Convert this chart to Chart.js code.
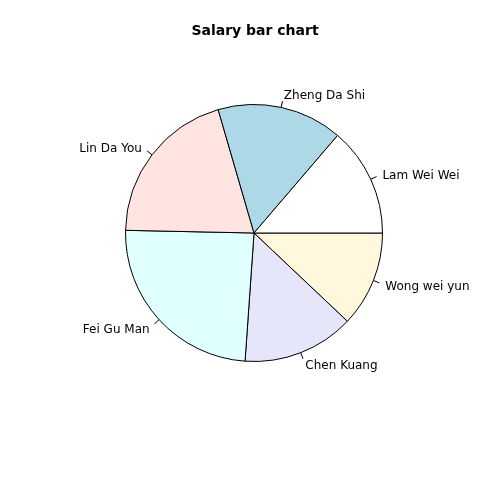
<!DOCTYPE html>
<html>
<head>
<meta charset="utf-8">
<script src="https://cdn.jsdelivr.net/npm/chart.js@4.4.0/dist/chart.umd.min.js"></script>
<style>
html,body{margin:0;padding:0;background:#fff;}
#wrap{width:480px;height:480px;}
</style>
</head>
<body>
<div id="wrap"><canvas id="c" width="480" height="480"></canvas></div>
<script>
// Data in R order (counter-clockwise from 3 o'clock)
const categories = ["Lam Wei Wei", "Zheng Da Shi", "Lin Da You", "Fei Gu Man", "Chen Kuang", "Wong wei yun"];
const salaries = [2470, 2840, 3630, 4360, 2530, 2170];
const sliceColors = ["#FFFFFF", "#ADD8E6", "#FFE4E1", "#E0FFFF", "#E6E6FA", "#FFF8DC"];
const chartTitle = "Salary bar chart";

// Chart.js draws clockwise, so reverse to mimic R's counter-clockwise order
const labelsRev = categories.slice().reverse();
const valuesRev = salaries.slice().reverse();
const colorsRev = sliceColors.slice().reverse();

const FONT = '"DejaVu Sans", sans-serif';

const rLabels = {
  id: 'rLabels',
  afterDatasetsDraw(chart) {
    const ctx = chart.ctx;
    const meta = chart.getDatasetMeta(0);
    ctx.save();
    ctx.strokeStyle = '#000';
    ctx.lineWidth = 1;
    ctx.fillStyle = '#000';
    ctx.font = '12px ' + FONT;
    ctx.textBaseline = 'middle';
    meta.data.forEach((arc, i) => {
      const p = arc.getProps(['x','y','startAngle','endAngle','outerRadius'], true);
      const mid = (p.startAngle + p.endAngle) / 2;
      const c = Math.cos(mid), s = Math.sin(mid);
      const r = p.outerRadius;
      ctx.beginPath();
      ctx.moveTo(p.x + r * c, p.y + r * s);
      ctx.lineTo(p.x + 1.05 * r * c, p.y + 1.05 * r * s);
      ctx.stroke();
      const tx = p.x + 1.1 * r * c, ty = p.y + 1.1 * r * s + 1.5;
      ctx.textAlign = c > 0 ? 'left' : 'right';
      ctx.fillText(chart.data.labels[i], tx, ty);
    });
    ctx.font = 'bold 14px ' + FONT;
    ctx.textAlign = 'center';
    ctx.fillText(chartTitle, 255, 31);
    ctx.restore();
  }
};

new Chart(document.getElementById('c'), {
  type: 'pie',
  data: {
    labels: labelsRev,
    datasets: [{
      data: valuesRev,
      backgroundColor: colorsRev,
      borderColor: '#000',
      borderWidth: 1,
      hoverOffset: 0
    }]
  },
  options: {
    responsive: false,
    animation: false,
    rotation: 90,
    layout: { padding: { left: 125, right: 97, top: 104, bottom: 118 } },
    plugins: {
      legend: { display: false },
      title: { display: false },
      tooltip: { enabled: false }
    }
  },
  plugins: [rLabels]
});
</script>
</body>
</html>
